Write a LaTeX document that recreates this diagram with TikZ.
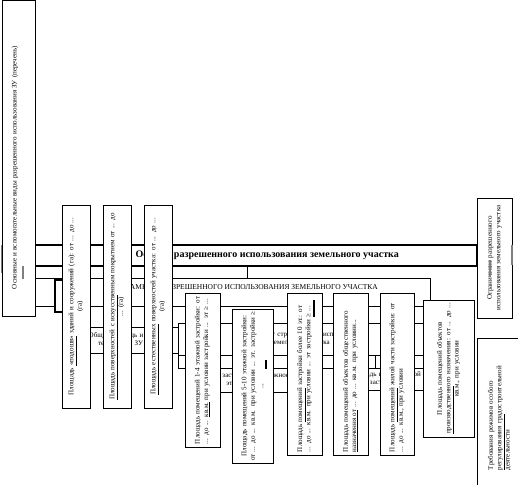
\documentclass[tikz,border=0pt]{standalone}
\usepackage{fontspec}
\setmainfont{Liberation Serif}
\usetikzlibrary{positioning}
\tikzset{
  vbox/.style={rectangle, draw, fill=white, rotate=90, align=center,
               font=\fontsize{7}{8.4}\selectfont, inner sep=1.5pt, line width=0.7pt},
  cell/.style={rectangle, draw, fill=white, align=center,
               font=\fontsize{7}{8.4}\selectfont, inner sep=1pt, line width=0.7pt},
  band/.style={rectangle, draw, line width=1.8pt, minimum width=442pt, minimum height=21pt},
  bandlbl/.style={font=\fontsize{10}{11}\selectfont\bfseries, inner sep=0pt},
  titlelbl/.style={font=\fontsize{7.5}{8}\selectfont, inner sep=0pt},
  ulbar/.style={line width=1.3pt},
  greybar/.style={line width=1.6pt, gray}
}

\begin{document}
\begin{tikzpicture}[x=1pt, y=-1pt]
\clip (0,0) rectangle (518,484);
\fill[white] (0,0) rectangle (518,484);
% back layer
\node[band] (osn) at (256,255.5) {};
\node[bandlbl, anchor=east] (osnlbl) at (399,255.5) {Основы разрешенного использования земельного участка};
\node[cell, minimum width=395pt, minimum height=28pt] (par) at (232.5,292) {};
\node[titlelbl, anchor=east] (parlbl) at (378,287.5) {ПАРАМЕТРЫ РАЗРЕШЕННОГО ИСПОЛЬЗОВАНИЯ ЗЕМЕЛЬНОГО УЧАСТКА};
\coordinate (dv) at (247,0);
\draw[line width=0.7pt] (osn.south -| dv) -- (par.north -| dv);
\node[cell, line width=1.2pt, minimum width=15pt, minimum height=32pt] (lft) at (62.5,296) {};
\node[cell, minimum width=102pt, minimum height=26pt, text width=98pt] (obsh) at (127,340) {Общая площадь и состав\\территории ЗУ (га)};
\node[cell, minimum width=245pt, minimum height=32pt, text width=140pt] (kis) at (300.5,339) {Коэффициент строительного использования\\земельного участка};
\node[cell, minimum width=245pt, minimum height=13pt] (etrow) at (300.5,361.5) {};
\coordinate (dv2) at (375,0);
\draw[line width=0.7pt] (etrow.north -| dv2) -- (etrow.south -| dv2);
\node[cell, minimum width=105pt, minimum height=24pt, text width=100pt] (sost) at (247.5,380) {Состав застройки по этажности\\этажей (кв.м.)};
\node[cell, minimum width=90pt, minimum height=22pt, text width=86pt] (komm) at (385,379) {Площадь коммерческой застройки};

% vertical boxes
\node[vbox, minimum width=316pt, minimum height=33pt, text width=262pt, align=left] (vid) at (18.5,158) {Основные и вспомогательные виды разрешенного использования ЗУ (перечень)\\\hspace*{10pt}{\color{gray}\rule[1.5pt]{13pt}{1.4pt}}};
\node[vbox, minimum width=203pt, minimum height=28pt, text width=197pt] (podosh) at (76,306.5) {Площадь \underline{«подошв»} зданий и сооружений (га): от ... до ...\\(га)};
\node[vbox, minimum width=203pt, minimum height=28pt, text width=197pt] (iskus) at (117,306.5) {\underline{Площадь поверхностей с искусств}енным покрытием от ... до\\... (га)};
\node[vbox, minimum width=203pt, minimum height=28pt, text width=197pt] (estest) at (158,306.5) {\underline{Площадь естественных} поверхностей участка: от ... до ...\\(га)};
\node[vbox, minimum width=154pt, minimum height=35pt, text width=148pt, align=left] (et14) at (202.5,370) {Площадь помещений 1-4 этажной застройки: от\\... до ... \underline{кв.м.} при условии застройки ... эт ≥ ...};
\node[vbox, minimum width=154pt, minimum height=41pt, text width=152pt, inner xsep=1pt] (et510) at (252.5,386) {Площадь помещений 5-10 этажной застройки:\\от ... до ... кв.м. при условии ... эт. застройки ≥\\...};
\node[vbox, minimum width=162pt, minimum height=35pt, text width=156pt, align=left] (et10) at (304.5,374) {Площадь \underline{помещений} застройки более 10 эт.: от\\... до ... кв.м. при условии ... эт застройки ≥ ...};
\node[vbox, minimum width=162pt, minimum height=35pt, text width=156pt, align=left] (obshch) at (350.5,374) {Площадь помещений объектов общественного\\\underline{назначения от} ... до ... кв.м. при условии...};
\node[vbox, minimum width=162pt, minimum height=34pt, text width=156pt, align=left] (zhil) at (397,374) {Площадь \underline{помещений} жилой части застройки: от\\... до ... кв.м., при условии};
\node[vbox, minimum width=137pt, minimum height=51pt, text width=131pt] (proizv) at (448.5,368.5) {Площадь помещений объектов\\\underline{производственн}ого назначения: от ... до ...\\кв.м., при условии};
\node[vbox, minimum width=120pt, minimum height=35pt, text width=114pt] (ogr) at (494.5,258) {Ограничение разрешенного\\использования земельного участка};
\node[vbox, minimum width=154pt, minimum height=45pt, text width=110pt, align=left] (treb) at (499.5,415) {Требования режимов особого\\\underline{регулирования гра}достроительной\\деятельности};

% marks
\draw[ulbar] (266,360) -- (266,369);
\draw[ulbar] (314,300) -- (314,317);
\draw[greybar] (490,260) -- (490,277);
\draw[greybar] (512,245) -- (512,265);
\draw[greybar] (1.5,245) -- (1.5,273);
\end{tikzpicture}
\end{document}
